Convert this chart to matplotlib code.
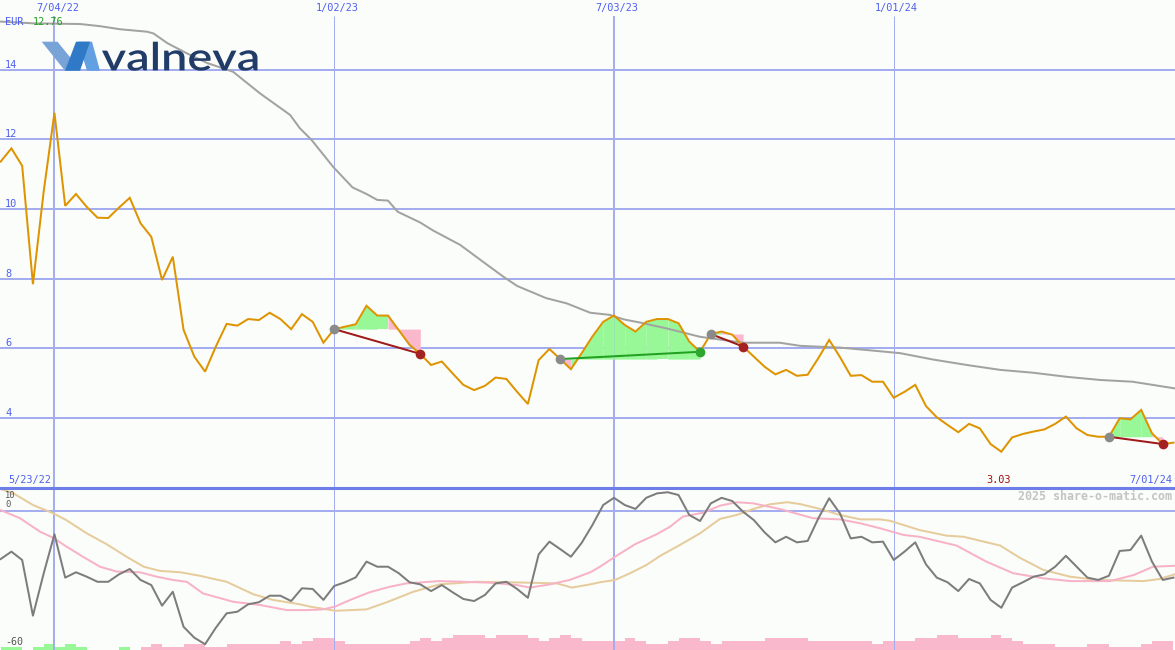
import numpy as np
import matplotlib
matplotlib.use("Agg")
import matplotlib.pyplot as plt
from matplotlib import transforms
from matplotlib.textpath import TextPath
from matplotlib.patches import PathPatch, Polygon
from matplotlib.font_manager import FontProperties

# ---------------- data ----------------
price = [11.36, 11.74, 11.24, 7.84, 10.5, 12.76, 10.09, 10.43, 10.06, 9.75,
         9.74, 10.04, 10.32, 9.59, 9.20, 7.96, 8.63, 6.53, 5.76, 5.33,
         6.05, 6.70, 6.65, 6.84, 6.81, 7.02, 6.84, 6.55, 6.98, 6.76,
         6.16, 6.55, 6.62, 6.69, 7.22, 6.94, 6.94, 6.52, 6.10, 5.84,
         5.52, 5.62, 5.28, 4.95, 4.80, 4.92, 5.16, 5.12, 4.75, 4.40,
         5.66, 5.98, 5.69, 5.40, 5.86, 6.34, 6.76, 6.94, 6.67, 6.48,
         6.76, 6.84, 6.84, 6.72, 6.19, 5.90, 6.41, 6.48, 6.39, 6.05,
         5.76, 5.47, 5.25, 5.38, 5.21, 5.24, 5.72, 6.24, 5.75, 5.21,
         5.23, 5.04, 5.04, 4.58, 4.75, 4.95, 4.34, 4.02, 3.80, 3.59,
         3.83, 3.70, 3.25, 3.03, 3.44, 3.54, 3.61, 3.67, 3.83, 4.04,
         3.70, 3.51, 3.46, 3.46, 3.99, 3.96, 4.23, 3.56, 3.25, 3.29]

# long moving average of price (grey line), vertices: week index / value
ma_x = [0, 3, 7.4, 9.2, 11.1, 13.6, 14.2, 15.5, 17.3, 19.2, 21.6, 24.1, 26.9, 27.8,
        28.9, 30.9, 32.7, 34, 35, 36, 36.9, 39, 40.2, 42.7, 44.8, 46.7, 48, 50.7,
        52.6, 54.8, 56.6, 57.9, 59.4, 61.9, 65, 69, 72.4, 74.3, 78, 80.5, 83.6,
        86.6, 89.8, 92.9, 95.9, 99.1, 102.2, 105.2, 109.1]
ma_y = [15.38, 15.33, 15.31, 15.25, 15.16, 15.09, 15.04, 14.76, 14.47, 14.19, 13.94,
        13.32, 12.70, 12.32, 11.98, 11.21, 10.62, 10.43, 10.26, 10.24, 9.92, 9.61,
        9.38, 8.97, 8.49, 8.06, 7.79, 7.44, 7.29, 7.02, 6.96, 6.83, 6.74, 6.57,
        6.33, 6.16, 6.16, 6.07, 6.02, 5.95, 5.86, 5.68, 5.52, 5.38, 5.30, 5.18,
        5.09, 5.04, 4.85]

# trades: (entry week, exit week)
trades = [(31, 39), (52, 65), (66, 69), (103, 108)]

# oscillator (lower panel)
osc = [-20.8, -17.6, -21.2, -45.2, -27.0, -10.1, -28.8, -26.5, -28.4, -30.6,
       -30.6, -27.4, -25.1, -29.8, -32.0, -40.9, -34.9, -50.0, -54.7, -57.5,
       -50.4, -44.2, -43.5, -40.3, -39.4, -36.6, -36.6, -38.9, -33.4, -33.7,
       -38.4, -32.4, -30.8, -28.7, -21.9, -24.1, -24.1, -26.9, -30.8, -31.7,
       -34.6, -32.0, -35.1, -38.0, -38.9, -36.3, -31.3, -30.6, -33.7, -37.5,
       -18.8, -13.3, -16.5, -19.8, -13.8, -6.1, 2.5, 5.6, 2.5, 0.8,
       5.6, 7.5, 8.0, 6.8, -1.8, -4.4, 3.2, 5.6, 4.2, -0.4,
       -4.0, -9.3, -13.6, -11.2, -13.6, -13.0, -3.2, 5.4, -1.1, -11.9,
       -11.2, -13.6, -13.3, -21.2, -17.6, -13.6, -23.1, -28.8, -30.8, -34.6,
       -29.4, -31.3, -38.4, -41.8, -33.1, -30.8, -28.4, -27.4, -24.1, -19.4,
       -24.1, -28.8, -29.8, -28.0, -17.3, -16.9, -10.7, -21.9, -29.8, -28.8]

sig_x = [0, 1.8, 3.66, 4.87, 6.14, 7.65, 9.23, 10.78, 12.95, 14.5, 16.0, 17.3, 18.8,
         21.6, 24.1, 26.6, 28.4, 29.96, 31.07, 32.5, 34.3, 36.2, 37.7, 40.8, 43.0,
         45.5, 47.96, 49.2, 51.05, 52.9, 54.8, 55.7, 57.1, 58.96, 60.97, 62.2, 63.4,
         65.3, 66.85, 68.4, 69.95, 72.4, 75.5, 78.0, 79.9, 81.7, 83.9, 85.4, 88.85,
         91.6, 94.1, 96.9, 99.4, 103.1, 105.3, 107.1, 109.1]
sig_y = [0.3, -3.2, -9.0, -11.6, -15.5, -19.8, -24.1, -26.2, -26.5, -28.4, -29.8, -30.6,
         -35.6, -39.2, -40.6, -42.8, -42.8, -42.5, -41.3, -38.4, -35.1, -32.7, -31.3,
         -30.3, -30.6, -31.0, -32.0, -33.1, -31.7, -29.8, -26.5, -24.1, -19.8, -14.4,
         -10.1, -6.9, -2.5, -0.8, 2.2, 3.7, 3.2, 0.8, -3.2, -3.7, -5.4, -7.5, -10.4,
         -11.2, -15.0, -21.9, -26.9, -29.1, -30.3, -30.3, -27.7, -24.1, -23.7]

slow_x = [0, 1.2, 3.0, 4.9, 6.1, 8.0, 9.85, 11.7, 13.3, 14.8, 16.7, 18.5, 21.0, 23.5,
          25.3, 27.8, 28.75, 31.1, 34.0, 35.9, 38.35, 40.8, 44.2, 47.0, 49.2, 51.7,
          53.1, 54.8, 55.7, 57.1, 58.5, 60.0, 61.3, 63.1, 65.0, 66.85, 68.4, 69.95,
          71.5, 73.1, 74.3, 76.15, 78.0, 79.9, 81.7, 82.65, 85.4, 87.9, 89.5, 92.9,
          94.7, 96.9, 99.4, 101.9, 106.2, 107.7, 109.1]
slow_y = [9.4, 7.5, 2.5, -1.1, -4.0, -9.7, -14.4, -19.8, -24.1, -25.9, -26.5, -28.0,
          -30.6, -36.0, -38.4, -40.3, -41.3, -43.1, -42.5, -39.4, -34.9, -31.7, -30.6,
          -30.8, -31.0, -31.3, -33.1, -31.7, -30.8, -29.8, -26.9, -23.4, -19.4, -14.8,
          -9.7, -3.5, -1.8, 0.8, 2.8, 3.7, 2.9, 0.8, -1.8, -3.7, -3.7, -4.3, -8.3,
          -10.7, -11.2, -15.0, -20.2, -25.5, -28.4, -29.8, -30.3, -29.4, -27.4]

# weekly volume level (bar from week i to i+1) and up/down flag
vol = [1, 1, 0, 1, 2, 1, 2, 1, 0, 0, 0, 1, 0,
       1, 2, 1, 1, 2, 2, 1, 1, 2, 2, 2, 2, 2, 3, 2, 3, 4, 4, 3, 2, 2, 2, 2, 2, 2,
       3, 4, 3, 4, 5, 5, 5, 4, 5, 5, 5, 4, 3, 4, 5, 4, 3, 3, 3, 3, 4, 3, 2, 2, 3,
       4, 4, 3, 2, 3, 3, 3, 3, 4, 4, 4, 4, 3, 3, 3, 3, 3, 3, 2, 3, 3, 3, 4, 4, 5,
       5, 4, 4, 4, 5, 4, 3, 2, 2, 2, 1, 1, 1, 2, 2, 1, 1, 1, 2, 3, 3]
vol_up = [True] * 13 + [False] * (len(vol) - 13)

date_pos = [5, 31, 57, 83]
date_lbl = ['7/04/22', '1/02/23', '7/03/23', '1/01/24']
major_dates = [True, False, True, False]
price_ticks = [4, 6, 8, 10, 12, 14]
start_lbl, end_lbl = '5/23/22', '7/01/24'

# ---------------- style ----------------
W, H = 1175, 650
BG = '#fbfdfa'
GRID = '#a3adf0'
BLUE_TXT = '#4f5ff0'
ORANGE = '#de9400'
PX = 0.72  # points per pixel at dpi 100
MONO = 'DejaVu Sans Mono'

fig = plt.figure(figsize=(W / 100, H / 100), dpi=100)
fig.patch.set_facecolor(BG)
split = 487.6
ax = fig.add_axes([0, 1 - split / H, 1, split / H])
axb = fig.add_axes([0, 0, 1, 1 - split / H])

x = np.arange(len(price))
xlim = (-0.06, 109.14)
for a in (ax, axb):
    a.set_facecolor(BG)
    a.set_xlim(*xlim)
    for s in a.spines.values():
        s.set_visible(False)
    a.set_xticks([])
    a.set_yticks([])
ax.set_ylim(2, 16)
axb.set_ylim(-60, 10)

# ---- top grid ----
for v in price_ticks:
    ax.axhline(v, color=GRID, lw=2 * PX, zorder=1)
lbl_tr = transforms.offset_copy(
    transforms.blended_transform_factory(ax.transAxes, ax.transData),
    fig=fig, x=0, y=2 * PX, units='points')
for v in price_ticks:
    ax.text(5 / W, v, str(v), transform=lbl_tr, color=BLUE_TXT, fontsize=7.4,
            family=MONO, ha='left', va='baseline', zorder=6)

for p, lbl, major in zip(date_pos, date_lbl, major_dates):
    lw = 2 * PX if major else 1 * PX
    ax.vlines(p, 2, 16 - 16 / 34.83, color=GRID, lw=lw, zorder=1)
    axb.axvline(p, color=GRID, lw=lw, zorder=2)
    dt = transforms.offset_copy(
        transforms.blended_transform_factory(ax.transData, ax.transAxes),
        fig=fig, x=3 * PX, y=0, units='points')
    ax.text(p, 1 - 8 / split, lbl, transform=dt, color=BLUE_TXT, fontsize=7.4,
            family=MONO, ha='center', va='center', zorder=6)

# ---- trade fills ----
GREEN_FILL = '#98f898'
PINK_FILL = '#f9b8cb'
for e, xo in trades:
    lvl = price[e]
    for k in range(e, xo):
        col = GREEN_FILL if price[k + 1] >= lvl else PINK_FILL
        ax.fill_between([k, k + 1], [price[k], price[k + 1]], lvl, color=col,
                        lw=0, zorder=2)

# ---- grey MA and price ----
ax.plot(ma_x, ma_y, color='#a2a2a2', lw=2 * PX, zorder=3)
ax.plot(x, price, color=ORANGE, lw=2 * PX, zorder=4, solid_joinstyle='miter')

for e, xo in trades:
    win = price[xo] > price[e]
    lc = '#22a022' if win else '#a01a1a'
    dc = '#2ea62e' if win else '#a52222'
    ax.plot([e, xo], [price[e], price[xo]], color=lc, lw=2 * PX, zorder=5)
    ax.plot([e], [price[e]], 'o', color='#8a8a8a', ms=7, mew=0, zorder=6)
    ax.plot([xo], [price[xo]], 'o', color=dc, ms=7, mew=0, zorder=6)

# ---- top labels ----
def ftxt(px, py, s, **kw):
    fig.text(px / W, 1 - py / H, s, **kw)

ftxt(5, 21.7, 'EUR', color=BLUE_TXT, fontsize=7.4, family=MONO, va='center', ha='left')
ftxt(33, 21.7, f'{max(price):.2f}', color='#22a022', fontsize=7.4, family=MONO,
     va='center', ha='left')
ftxt(8, 480, start_lbl, color=BLUE_TXT, fontsize=7.4, family=MONO, va='center', ha='left')
ftxt(1172, 480, end_lbl, color=BLUE_TXT, fontsize=7.4, family=MONO, va='center', ha='right')
imin = int(np.argmin(price))
mt = transforms.offset_copy(
    transforms.blended_transform_factory(ax.transData, ax.transAxes),
    fig=fig, x=-3 * PX, y=0, units='points')
ax.text(imin, 1 - 480 / split, f'{min(price):.2f}', transform=mt, color='#a01010',
        fontsize=7.4, family=MONO, ha='center', va='center', zorder=6)

# ---- lower panel ----
axb.axhline(0, color=GRID, lw=2 * PX, zorder=2)
axb.axhline(10, color='#6e7ee8', lw=2.2, zorder=7, clip_on=False)
vcols = [GREEN_FILL if u else PINK_FILL for u in vol_up]
axb.bar(np.arange(len(vol)), np.array(vol) * 1.29, bottom=-60, width=1.0,
        align='edge', color=vcols, lw=0, zorder=1)
axb.plot(slow_x, slow_y, color='#e6cc9c', lw=2 * PX, zorder=3)
axb.plot(sig_x, sig_y, color='#f8b2c8', lw=2 * PX, zorder=3)
axb.plot(x, osc, color='#7c7c7c', lw=2 * PX, zorder=4)

ftxt(5, 495.2, '10', color='#555555', fontsize=6.3, family=MONO, va='center', ha='left')
ftxt(5, 504.6, '0', color='#555555', fontsize=6.3, family=MONO, va='center', ha='left')
ftxt(5, 641.7, '-60', color='#555555', fontsize=7.2, family=MONO, va='center', ha='left')
ftxt(1172, 496.7, '2025 share-o-matic.com', color='#c4c4c4', fontsize=8.4,
     family=MONO, weight='bold', va='center', ha='right')

# ---- logo ----
def fp(pts):
    return [(px / W, 1 - py / H) for px, py in pts]

for pts, col in [
    ([(41.7, 41.7), (57.5, 41.7), (81, 70.7), (65, 70.7)], '#78a3d6'),
    ([(78, 41.7), (92, 41.7), (100, 70.7), (87, 70.7)], '#62a0e2'),
    ([(65, 70.7), (80, 70.7), (90, 41.7), (76, 41.7)], '#3079c6'),
]:
    fig.add_artist(Polygon(fp(pts), closed=True, transform=fig.transFigure,
                           facecolor=col, edgecolor='none', zorder=10))

tp = TextPath((0, 0), 'valneva', size=100,
              prop=FontProperties(family='Lato', weight='semibold'))
bb = tp.get_extents()
sx = (257.5 - 102) / bb.width
sy = (70.7 - 41.7) / bb.height
tr = (transforms.Affine2D().translate(-bb.x0, -bb.y0).scale(sx / W, sy / H)
      .translate(102 / W, (H - 70.7) / H) + fig.transFigure)
fig.add_artist(PathPatch(tp, transform=tr, facecolor='#213c68', edgecolor='none',
                         zorder=10))

fig.savefig('out.png', dpi=100, facecolor=BG)
